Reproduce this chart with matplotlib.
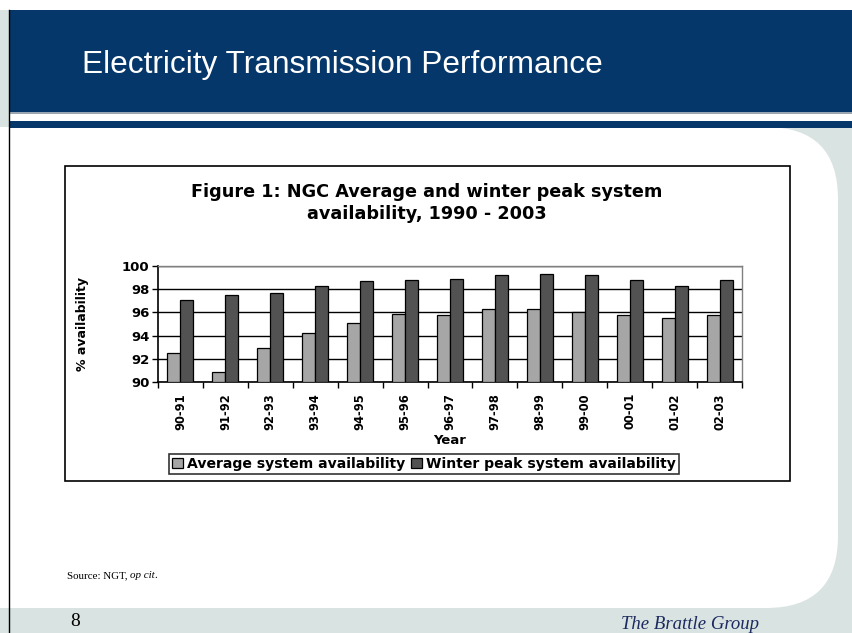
import matplotlib
matplotlib.use("Agg")
import matplotlib.pyplot as plt
import numpy as np
from matplotlib.patches import Rectangle, FancyBboxPatch
from matplotlib.transforms import IdentityTransform
from matplotlib.lines import Line2D

years = ["90-91", "91-92", "92-93", "93-94", "94-95", "95-96", "96-97",
         "97-98", "98-99", "99-00", "00-01", "01-02", "02-03"]
average = [92.5, 90.9, 92.9, 94.2, 95.1, 95.9, 95.8, 96.3, 96.3, 96.0, 95.8, 95.5, 95.8]
winter = [97.1, 97.5, 97.7, 98.3, 98.7, 98.8, 98.9, 99.2, 99.3, 99.2, 98.8, 98.3, 98.8]
yticks = [90, 92, 94, 96, 98, 100]

W, H = 853, 633
fig = plt.figure(figsize=(W / 100, H / 100), dpi=100)
fig.patch.set_facecolor("#d9e3e1")

def px(x, y):
    return x, H - y

ident = IdentityTransform()
navy = "#06376a"
cf = "DejaVu Sans"

def add(a, z=-5):
    a.set_zorder(z)
    fig.add_artist(a)

# white panel with rounded right corners
add(FancyBboxPatch(px(-200, 608), 838 + 200, 608 - 127,
                   boxstyle="round,pad=0,rounding_size=72",
                   facecolor="white", edgecolor="none", transform=ident), -6)
add(Rectangle(px(0, 10), W, 10, facecolor="white", edgecolor="none", transform=ident))
add(Rectangle(px(9, 112), W, 102, facecolor=navy, edgecolor="none", transform=ident))
add(Rectangle(px(9, 114), W, 2, facecolor="#9aa6b2", edgecolor="none", transform=ident))
add(Rectangle(px(9, 121), W, 7, facecolor="white", edgecolor="none", transform=ident))
add(Rectangle(px(9, 128), W, 7, facecolor=navy, edgecolor="none", transform=ident))
add(Line2D([9, 9], [0, H - 10], color="black", lw=1.0, transform=ident))

fig.text(82 / W, 1 - 73 / H, "Electricity Transmission Performance", color="white",
         fontsize=22.8, family="Liberation Sans", va="baseline", ha="left")

# chart frame
add(Rectangle(px(65, 481), 790 - 65, 481 - 166, facecolor="white",
              edgecolor="black", lw=1.2, transform=ident), -4)

fig.text(427 / W, 1 - 203 / H, "Figure 1: NGC Average and winter peak system\navailability, 1990 - 2003",
         ha="center", va="center", fontsize=12.7, fontweight="bold", family=cf,
         linespacing=1.3)

ax = fig.add_axes([158 / W, 1 - 382 / H, 584 / W, 116 / H])
ax.set_zorder(2)
x = np.arange(len(years))
bw = 0.29
b1 = ax.bar(x - bw / 2, np.array(average) - 90, bw, bottom=90, color="#a6a6a6",
            edgecolor="black", lw=0.9, label="Average system availability", zorder=3)
b2 = ax.bar(x + bw / 2, np.array(winter) - 90, bw, bottom=90, color="#525252",
            edgecolor="black", lw=0.9, label="Winter peak system availability", zorder=3)
ax.set_ylim(90, 100)
ax.set_xlim(-0.5, len(years) - 0.5)
ax.set_yticks(yticks)
ax.set_yticklabels([str(v) for v in yticks], fontsize=9.5, fontweight="bold", family=cf)
ax.yaxis.grid(True, color="black", lw=1.0, zorder=1)
ax.set_axisbelow(True)
ax.set_xticks(x)
ax.set_xticklabels(years, rotation=90, fontsize=8.3, fontweight="bold", family=cf)
ax.set_xticks(np.arange(-0.5, len(years), 1), minor=True)
ax.tick_params(axis="x", which="major", length=0, pad=8)
ax.tick_params(axis="x", which="minor", length=4, width=1, direction="out")
ax.tick_params(axis="y", length=4, width=1, direction="out", pad=2)
for s in ["top", "right"]:
    ax.spines[s].set_color("#808080")
    ax.spines[s].set_linewidth(1.0)
for s in ["left", "bottom"]:
    ax.spines[s].set_color("black")
    ax.spines[s].set_linewidth(1.2)
ax.set_ylabel("% availability", fontsize=9, fontweight="bold", family=cf, labelpad=24)
ax.set_xlabel("Year", fontsize=9.5, fontweight="bold", family=cf, labelpad=3)

leg = fig.legend(handles=[b1, b2], loc="center", bbox_to_anchor=(424 / W, 1 - 464 / H),
                 ncol=2, frameon=True, fancybox=False, edgecolor="black",
                 prop={"family": cf, "weight": "bold", "size": 10.1},
                 handlelength=0.8, handleheight=0.8, handletextpad=0.3, columnspacing=0.4,
                 borderpad=0.2, borderaxespad=0)
leg.get_frame().set_linewidth(1.2)
leg.set_zorder(5)

# source line, pieced together
r = fig.canvas.get_renderer()
fs = 7.9
t1 = fig.text(67 / W, 1 - 576 / H, "Source: NGT, ", fontsize=fs, family="Liberation Serif",
              ha="left", va="center")
e1 = t1.get_window_extent(r)
t2 = fig.text(e1.x1 / W, 1 - 576 / H, "op cit", fontsize=fs, family="Liberation Serif",
              style="italic", ha="left", va="center")
e2 = t2.get_window_extent(r)
fig.text((e2.x1 - 1) / W, 1 - 576 / H, ".", fontsize=fs, family="Liberation Serif",
         ha="left", va="center")

fig.text(75 / W, 1 - 621 / H, "8", fontsize=14, family="Liberation Serif", ha="center", va="center")
fig.text(621 / W, 1 - 629 / H, "The Brattle Group", fontsize=13.5, family="Liberation Serif",
         style="italic", color="#1c2a5e", ha="left", va="baseline")

fig.savefig("out.png", dpi=100, facecolor=fig.get_facecolor())
